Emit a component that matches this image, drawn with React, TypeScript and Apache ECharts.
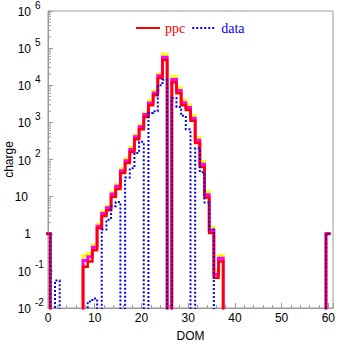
import React, { useEffect, useRef } from 'react';
import * as echarts from 'echarts';

// DOM bins (bin centers); bins not listed are empty
const DOM_MIN = 0;
const DOM_MAX = 60;
const X_MAX = 61;

// ppc prediction (red)
const ppcDom = [0, 8, 9, 10, 11, 12, 13, 14, 15, 16, 17, 18, 19, 20, 21, 22, 23, 24, 25, 27, 28, 29, 30, 31, 32, 33, 34, 35, 36, 37, 60];
const ppcVal = [1, 0.13, 0.18, 0.36, 1.4, 3.0, 4.3, 10, 16, 43, 80, 160, 350, 650, 1400, 2900, 5400, 15600, 48000, 12000, 6100, 2900, 2150, 1100, 280, 63, 9.5, 1.05, 0.065, 0.18, 1];
// ppc 1-sigma upper (magenta)
const ppcHi1 = [1, 0.19, 0.24, 0.43, 1.6, 3.5, 5.0, 11.8, 19, 50, 93, 185, 410, 760, 1620, 3350, 6200, 18000, 57000, 14300, 7200, 3400, 2500, 1300, 330, 75, 11.3, 1.25, 0.08, 0.22, 1];
// ppc 2-sigma upper (yellow)
const ppcHi2 = [1, 0.26, 0.3, 0.5, 1.8, 3.9, 5.6, 13, 21, 56, 105, 210, 460, 850, 1800, 3800, 7000, 20000, 68000, 17000, 8500, 4000, 3000, 1500, 390, 88, 13.5, 1.5, 0.1, 0.26, 1];

// observed data (blue dotted)
const dataDom = [0, 2, 9, 10, 12, 13, 14, 15, 17, 18, 19, 20, 22, 23, 24, 25, 27, 28, 29, 30, 32, 33, 34, 35, 60];
const dataVal = [1, 0.055, 0.015, 0.018, 1.3, 2.4, 5.5, 7.2, 33, 58, 150, 300, 1800, 2000, 10000, 14000, 4500, 2600, 1500, 650, 200, 45, 7, 1.3, 1];

// y axis (log) decades and minor tick multipliers
const Y_MIN = 0.01;
const Y_MAX = 1e6;
const decades = [0.01, 0.1, 1, 10, 100, 1000, 10000, 100000];
const minorMult = [2, 3, 4, 5, 6, 7, 8, 9];

const FLOOR = 1e-4; // empty bins fall below the axis and are clipped
const AXIS_GRAY = '#9a9a9a';
const SANS = '"Liberation Sans", Arial, sans-serif';
const SERIF = '"Liberation Serif", "Times New Roman", serif';

function stepPoints(doms: number[], vals: number[]) {
  const m = new Map<number, number>();
  doms.forEach((d, i) => m.set(d, vals[i]));
  const pts: number[][] = [];
  for (let b = DOM_MIN; b <= DOM_MAX; b++) {
    const v = m.get(b);
    const y = v && v > 0 ? v : FLOOR;
    pts.push([b - 0.5, y], [b + 0.5, y]);
  }
  return pts;
}

const expOf = (v: number) => Math.round(Math.log10(v));

export default function App() {
  const ref = useRef<HTMLDivElement>(null);
  useEffect(() => {
    if (!ref.current) return;
    const chart = echarts.init(ref.current, undefined, { renderer: 'svg' });
    const minorTicks: number[][] = [];
    decades.forEach((d) => minorMult.forEach((m) => minorTicks.push([0, d * m])));

    const stepLine = (name: string, pts: number[][], color: string, width: number, dash?: any) => ({
      name,
      type: 'line',
      data: pts,
      symbol: 'none',
      showSymbol: false,
      clip: true,
      silent: true,
      lineStyle: { color, width, type: dash || 'solid', cap: 'butt', join: 'miter' },
      itemStyle: { color },
    });

    const logAxisBase = {
      type: 'log',
      logBase: 10,
      min: Y_MIN,
      max: Y_MAX,
      splitNumber: 8,
      position: 'left',
      splitLine: { show: false },
    };

    chart.setOption({
      animation: false,
      backgroundColor: '#ffffff',
      grid: {
        left: 48, right: 4, top: 11, bottom: 36,
        outerBoundsMode: 'none', containLabel: false,
        show: true, borderColor: AXIS_GRAY, borderWidth: 1, backgroundColor: 'transparent',
      },
      legend: {
        left: 130,
        top: 16,
        itemWidth: 24,
        itemHeight: 14,
        itemGap: 6,
        itemStyle: { opacity: 0 },
        data: [
          { name: 'ppc', textStyle: { color: '#ff0000' } },
          { name: 'data', textStyle: { color: '#0000ff' } },
        ],
        textStyle: { fontFamily: SERIF, fontSize: 14 },
      },
      xAxis: {
        type: 'value',
        min: 0,
        max: X_MAX,
        interval: 10,
        name: 'DOM',
        nameLocation: 'middle',
        nameGap: 22,
        nameMoveOverlap: false,
        nameTextStyle: { fontFamily: SANS, fontSize: 12, color: '#000' },
        axisLine: { show: true, lineStyle: { color: AXIS_GRAY } },
        axisTick: { show: true, inside: true, length: 5, lineStyle: { color: AXIS_GRAY } },
        minorTick: { show: true, splitNumber: 5, length: 3, lineStyle: { color: AXIS_GRAY } },
        splitLine: { show: false },
        axisLabel: { margin: 4, fontFamily: SANS, fontSize: 12, color: '#000', showMaxLabel: false },
      },
      yAxis: [
        {
          ...logAxisBase,
          name: 'charge',
          nameLocation: 'middle',
          nameGap: 33,
          nameMoveOverlap: false,
          nameTextStyle: { fontFamily: SANS, fontSize: 12, color: '#000' },
          axisLine: { show: true, lineStyle: { color: AXIS_GRAY } },
          axisTick: { show: true, inside: true, length: 5, lineStyle: { color: AXIS_GRAY } },
          axisLabel: {
            margin: 17,
            color: '#000',
            fontFamily: SANS,
            fontSize: 12,
            formatter: (v: number) => {
              const e = expOf(v);
              if (e === 0) return '{p0|1}';
              if (e === 1) return '{p1|10}';
              return '{b|10}';
            },
            rich: {
              p0: { fontFamily: SANS, fontSize: 12, color: '#000', padding: [0, 0, 0, 0] },
              p1: { fontFamily: SANS, fontSize: 12, color: '#000', padding: [0, 3, 0, 0] },
              b: { fontFamily: SANS, fontSize: 12, color: '#000', padding: [2, 0, 0, 0] },
            },
          },
        },
        {
          ...logAxisBase,
          axisLine: { show: false },
          axisTick: { show: false },
          axisLabel: {
            margin: 13,
            align: 'left',
            verticalAlign: 'bottom',
            lineHeight: 12,
            color: '#000',
            fontFamily: SANS,
            fontSize: 10,
            formatter: (v: number) => {
              const e = expOf(v);
              if (e === 0 || e === 1) return '';
              return e < 0 ? '-' + -e : String(e);
            },
          },
        },
      ],
      series: [
        stepLine('ppc2', stepPoints(ppcDom, ppcHi2), '#ffff00', 3),
        stepLine('ppc1', stepPoints(ppcDom, ppcHi1), '#ff00ff', 3),
        stepLine('ppc', stepPoints(ppcDom, ppcVal), '#ff0000', 2.5),
        stepLine('data', stepPoints(dataDom, dataVal), '#0000ff', 2, [2, 2]),
        {
          name: 'minor',
          type: 'custom',
          silent: true,
          data: minorTicks,
          renderItem: (params: any, api: any) => {
            const p = api.coord([api.value(0), api.value(1)]);
            return {
              type: 'line',
              shape: { x1: p[0], y1: p[1], x2: p[0] + 3, y2: p[1] },
              style: { stroke: AXIS_GRAY, lineWidth: 1 },
            };
          },
        },
      ],
    });
    return () => chart.dispose();
  }, []);
  return <div ref={ref} style={{ position: 'fixed', left: 0, top: 0, width: 337, height: 344 }} />;
}
